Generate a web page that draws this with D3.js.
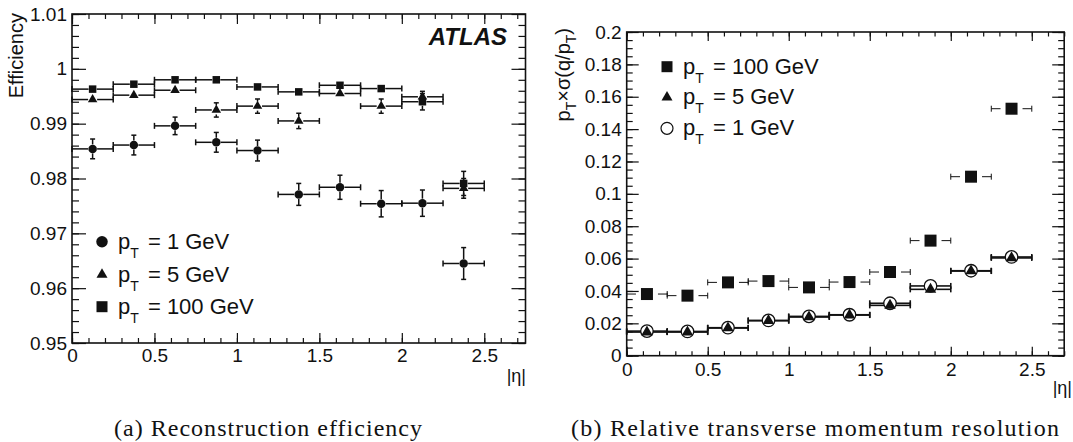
<!DOCTYPE html>
<html>
<head>
<meta charset="utf-8">
<script src="https://cdn.jsdelivr.net/npm/d3@7"></script>
<style>
body { margin: 0; background: #fff; }
text { font-family: "Liberation Sans", Arial, sans-serif; fill: #111; }
.caption { font-family: "Liberation Serif", "Times New Roman", serif; }
</style>
</head>
<body>
<svg id="chart" width="1073" height="442"></svg>
<script>
// |eta| bins (centre, half width 0.125)
var etaCenters = [0.125, 0.375, 0.625, 0.875, 1.125, 1.375, 1.625, 1.875, 2.125, 2.375];
var etaHalf = 0.125;

// (a) reconstruction efficiency
var eff1 = [0.9854, 0.9861, 0.9896, 0.9866, 0.9851, 0.9771, 0.9784, 0.9754, 0.9755, 0.9645];
var eff1Err = [0.0018, 0.0018, 0.0016, 0.0018, 0.0019, 0.0020, 0.0022, 0.0024, 0.0024, 0.0029];
var eff5 = [0.9944, 0.9952, 0.9961, 0.9925, 0.9932, 0.9905, 0.9955, 0.9932, 0.9949, 0.9782];
var eff5Err = [0.0005, 0.0005, 0.0006, 0.0013, 0.0013, 0.0014, 0.0007, 0.0013, 0.0010, 0.0018];
var eff100 = [0.9963, 0.9972, 0.9980, 0.9980, 0.9967, 0.9958, 0.9970, 0.9964, 0.9940, 0.9791];
var eff100Err = [0.0004, 0.0004, 0.0004, 0.0004, 0.0005, 0.0005, 0.0006, 0.0007, 0.0015, 0.0022];

// (b) relative pT resolution
var res100 = [0.0381, 0.0371, 0.0453, 0.0461, 0.0422, 0.0455, 0.0517, 0.0711, 0.1106, 0.1526];
var res5 = [0.0146, 0.0146, 0.0171, 0.0216, 0.0239, 0.0251, 0.0311, 0.0410, 0.0523, 0.0604];
var res1 = [0.0152, 0.0150, 0.0173, 0.0218, 0.0243, 0.0253, 0.0324, 0.0431, 0.0525, 0.0610];

// tick labels
var etaTicks = [0, 0.5, 1, 1.5, 2, 2.5];
var etaTickLabels = ["0", "0.5", "1", "1.5", "2", "2.5"];
var effTicks = [0.95, 0.96, 0.97, 0.98, 0.99, 1, 1.01];
var effTickLabels = ["0.95", "0.96", "0.97", "0.98", "0.99", "1", "1.01"];
var resTicks = [0, 0.02, 0.04, 0.06, 0.08, 0.1, 0.12, 0.14, 0.16, 0.18, 0.2];
var resTickLabels = ["0", "0.02", "0.04", "0.06", "0.08", "0.1", "0.12", "0.14", "0.16", "0.18", "0.2"];

var svg = d3.select("#chart");
var ink = "#111";

function tickAxis(g, axisFn, scale, vals, size, transform, labels, pad, fs) {
    var a = g.append("g")
        .attr("transform", transform)
        .style("color", ink)
        .call(axisFn(scale)
            .tickValues(vals)
            .tickSize(-size)
            .tickSizeOuter(0)
            .tickPadding(pad || 0)
            .tickFormat(labels ? function(d, i) { return labels[i]; } : ""));
    a.select(".domain").remove();
    a.selectAll("line").attr("stroke-width", 1.2);
    a.selectAll("text").style("font-size", (fs || 19) + "px");
    return a;
}

function makePanel(o) {
    var g = svg.append("g").attr("transform", "translate(" + o.left + "," + o.top + ")");
    var x = d3.scaleLinear().domain(o.xDomain).range([0, o.w]);
    var y = d3.scaleLinear().domain(o.yDomain).range([o.h, 0]);

    var xMinor = d3.range(0, o.xDomain[1] + 1e-9, 0.1);
    var yMinor = d3.range(o.yDomain[0], o.yDomain[1] + 1e-9, o.yMinorStep);

    // minor ticks, all four sides
    tickAxis(g, d3.axisBottom, x, xMinor, o.xTick / 2, "translate(0," + o.h + ")");
    tickAxis(g, d3.axisTop, x, xMinor, o.xTick / 2, "translate(0,0)");
    tickAxis(g, d3.axisLeft, y, yMinor, o.yTick / 2, "translate(0,0)");
    tickAxis(g, d3.axisRight, y, yMinor, o.yTick / 2, "translate(" + o.w + ",0)");
    // major ticks
    tickAxis(g, d3.axisBottom, x, etaTicks, o.xTick, "translate(0," + o.h + ")", etaTickLabels, o.xPad);
    tickAxis(g, d3.axisTop, x, etaTicks, o.xTick, "translate(0,0)");
    tickAxis(g, d3.axisLeft, y, o.yTicks, o.yTick, "translate(0,0)", o.yLabels, 5);
    tickAxis(g, d3.axisRight, y, o.yTicks, o.yTick, "translate(" + o.w + ",0)");

    g.append("rect")
        .attr("width", o.w).attr("height", o.h)
        .attr("fill", "none").attr("stroke", ink).attr("stroke-width", 1.6);

    return { g: g, x: x, y: y, w: o.w, h: o.h };
}

function markerPath(type, s) {
    if (type === "triangle") return d3.symbol(d3.symbolTriangle, s * s * Math.sqrt(3) / 4)();
    if (type === "square") return d3.symbol(d3.symbolSquare, s * s)();
    return d3.symbol(d3.symbolCircle, Math.PI * s * s / 4)();
}

function drawSeries(p, vals, errs, m) {
    var pts = etaCenters.map(function(c, i) { return { c: c, v: vals[i], e: errs ? errs[i] : 0 }; });
    var gs = p.g.append("g").attr("stroke", ink).attr("stroke-width", m.lw);

    // horizontal bars with a gap round the marker
    gs.selectAll(".hl").data(pts).join("line")
        .attr("x1", function(d) { return p.x(d.c - etaHalf); })
        .attr("x2", function(d) { return p.x(d.c) - m.gap; })
        .attr("y1", function(d) { return p.y(d.v); })
        .attr("y2", function(d) { return p.y(d.v); });
    gs.selectAll(".hr").data(pts).join("line")
        .attr("x1", function(d) { return p.x(d.c) + m.gap; })
        .attr("x2", function(d) { return p.x(d.c + etaHalf); })
        .attr("y1", function(d) { return p.y(d.v); })
        .attr("y2", function(d) { return p.y(d.v); });
    // end caps
    [-1, 1].forEach(function(sgn) {
        gs.append("g").selectAll("line").data(pts).join("line")
            .attr("x1", function(d) { return p.x(d.c + sgn * etaHalf); })
            .attr("x2", function(d) { return p.x(d.c + sgn * etaHalf); })
            .attr("y1", function(d) { return p.y(d.v) - m.cap; })
            .attr("y2", function(d) { return p.y(d.v) + m.cap; });
    });
    // vertical error bars
    var vpts = pts.filter(function(d) { return p.y(d.v - d.e) - p.y(d.v) > m.gap; });
    [-1, 1].forEach(function(sgn) {
        var vg = gs.append("g");
        vg.selectAll(".v").data(vpts).join("line")
            .attr("x1", function(d) { return p.x(d.c); })
            .attr("x2", function(d) { return p.x(d.c); })
            .attr("y1", function(d) { return p.y(d.v) + sgn * m.gap; })
            .attr("y2", function(d) { return p.y(d.v - sgn * d.e); });
        vg.selectAll(".t").data(vpts).join("line")
            .attr("x1", function(d) { return p.x(d.c) - 2.5; })
            .attr("x2", function(d) { return p.x(d.c) + 2.5; })
            .attr("y1", function(d) { return p.y(d.v - sgn * d.e); })
            .attr("y2", function(d) { return p.y(d.v - sgn * d.e); });
    });

    p.g.append("g").selectAll("path").data(pts).join("path")
        .attr("transform", function(d) { return "translate(" + p.x(d.c) + "," + p.y(d.v) + ")"; })
        .attr("d", markerPath(m.type, m.size))
        .attr("fill", m.open ? "none" : ink)
        .attr("stroke", m.open ? ink : "none")
        .attr("stroke-width", 1.3);
}

function legendRow(g, x, y, type, size, open, label) {
    g.append("path")
        .attr("transform", "translate(" + x + "," + y + ")")
        .attr("d", markerPath(type, size))
        .attr("fill", open ? "none" : ink)
        .attr("stroke", open ? ink : "none")
        .attr("stroke-width", 1.2);
    var t = g.append("text")
        .attr("x", x + 16).attr("y", y + 7)
        .style("font-size", "22px");
    t.append("tspan").text("p");
    t.append("tspan").text("T").style("font-size", "14px").attr("dy", 9);
    t.append("tspan").text(" = " + label).attr("dy", -9).attr("dx", 3);
}

// ---- panel (a) ----
var pa = makePanel({
    left: 72, top: 14, w: 453.5, h: 329,
    xDomain: [0, 2.75], yDomain: [0.95, 1.01], yMinorStep: 0.002,
    xTick: 10, yTick: 14, xPad: 6,
    yTicks: effTicks, yLabels: effTickLabels
});
drawSeries(pa, eff1, eff1Err, { type: "circle", size: 8.5, gap: 4.5, lw: 1.5, cap: 3 });
drawSeries(pa, eff5, eff5Err, { type: "triangle", size: 9.5, gap: 4.5, lw: 1.5, cap: 3 });
drawSeries(pa, eff100, eff100Err, { type: "square", size: 7.5, gap: 4, lw: 1.5, cap: 3 });

legendRow(svg, 102, 241.7, "circle", 11.5, false, "1 GeV");
legendRow(svg, 102, 274.5, "triangle", 11, false, "5 GeV");
legendRow(svg, 102, 306.7, "square", 11, false, "100 GeV");

svg.append("text")
    .attr("transform", "translate(23,13) rotate(-90)")
    .attr("text-anchor", "end")
    .style("font-size", "20px")
    .text("Efficiency");

svg.append("text")
    .attr("x", 507).attr("y", 45)
    .attr("text-anchor", "end")
    .style("font-size", "24px").style("font-weight", "bold").style("font-style", "italic")
    .text("ATLAS");

svg.append("text")
    .attr("x", 526).attr("y", 382)
    .attr("text-anchor", "end")
    .style("font-size", "18px")
    .text("|η|");

// ---- panel (b) ----
var pb = makePanel({
    left: 626.7, top: 32, w: 437.5, h: 323.7,
    xDomain: [0, 2.7], yDomain: [0, 0.2], yMinorStep: 0.005,
    xTick: 9, yTick: 12, xPad: 7,
    yTicks: resTicks, yLabels: resTickLabels
});
drawSeries(pb, res100, null, { type: "square", size: 12, gap: 11, lw: 1, cap: 3 });
drawSeries(pb, res5, null, { type: "triangle", size: 11.5, gap: 6, lw: 1.6, cap: 3 });
drawSeries(pb, res1, null, { type: "circle", size: 12.5, gap: 6, lw: 1.6, cap: 3, open: true });

legendRow(svg, 667, 66.7, "square", 11, false, "100 GeV");
legendRow(svg, 667, 97.3, "triangle", 11, false, "5 GeV");
legendRow(svg, 667, 128.3, "circle", 12, true, "1 GeV");

var yt = svg.append("text")
    .attr("transform", "translate(570,28) rotate(-90)")
    .attr("text-anchor", "end")
    .style("font-size", "20px");
yt.append("tspan").text("p");
yt.append("tspan").text("T").style("font-size", "14px").attr("dy", 6);
yt.append("tspan").text("×σ(q/p").attr("dy", -6);
yt.append("tspan").text("T").style("font-size", "14px").attr("dy", 6);
yt.append("tspan").text(")").attr("dy", -6);

svg.append("text")
    .attr("x", 1072).attr("y", 394)
    .attr("text-anchor", "end")
    .style("font-size", "18px")
    .text("|η|");

// ---- captions ----
svg.append("text").attr("class", "caption")
    .attr("x", 114).attr("y", 436)
    .attr("textLength", 308).attr("lengthAdjust", "spacing")
    .style("font-size", "24px")
    .text("(a) Reconstruction efficiency");
svg.append("text").attr("class", "caption")
    .attr("x", 571).attr("y", 436)
    .attr("textLength", 488).attr("lengthAdjust", "spacing")
    .style("font-size", "24px")
    .text("(b) Relative transverse momentum resolution");
</script>
</body>
</html>
